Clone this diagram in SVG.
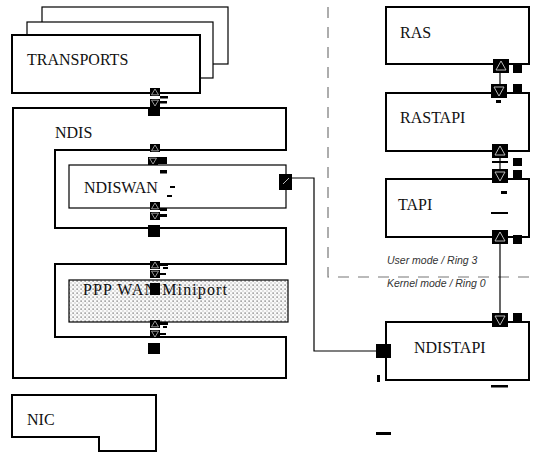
<svg xmlns="http://www.w3.org/2000/svg" xmlns:xlink="http://www.w3.org/1999/xlink" width="535" height="453" viewBox="0 0 535 453">
<style>
.box{fill:#fff;stroke:#000;stroke-width:2}
.thin{fill:#fff;stroke:#000;stroke-width:1.2}
.wire{fill:none;stroke:#000;stroke-width:1.2}
.dash{fill:none;stroke:#777;stroke-width:1.2;stroke-dasharray:11 9}
.blk{fill:#000}
</style>
<defs>
<pattern id="dots" width="4" height="4" patternUnits="userSpaceOnUse">
<rect width="4" height="4" fill="#fafafa"/>
<rect x="0.5" y="0.5" width="1.2" height="1.2" fill="#555"/>
<rect x="2.5" y="2.5" width="1" height="1" fill="#999"/>
</pattern>
<g id="gu"><rect width="10" height="8" fill="#000"/><path d="M5 1 L8.5 6.8 L1.5 6.8 Z" fill="none" stroke="#bbb" stroke-width="0.8"/></g>
<g id="gd"><rect width="10" height="8" fill="#000"/><path d="M1.5 1.2 L8.5 1.2 L5 7 Z" fill="none" stroke="#bbb" stroke-width="0.8"/></g>
<g id="GU"><rect width="16" height="14" fill="#000"/><path d="M8 2 L13 11 L3 11 Z" fill="none" stroke="#ccc" stroke-width="0.9"/></g>
<g id="GD"><rect width="16" height="14" fill="#000"/><path d="M3 3 L13 3 L8 12 Z" fill="none" stroke="#ccc" stroke-width="0.9"/></g>
</defs>
<rect width="535" height="453" fill="#fff"/>

<g id="boundary" font-family="Liberation Sans, Arial, sans-serif" font-size="10.5" font-style="italic" fill="#333">
<path class="dash" d="M328 7 V277 H529"/>
<text x="387" y="264">User mode / Ring 3</text>
<text x="387" y="287">Kernel mode / Ring 0</text>
</g>

<g font-family="Liberation Serif, Times New Roman, DejaVu Serif, serif" font-size="16" fill="#111">
<g id="transports">
<rect class="thin" x="42" y="7" width="186" height="57" stroke-width="1.5"/>
<rect class="thin" x="27" y="22" width="186" height="56" stroke-width="1.5"/>
<rect class="box" x="12" y="35" width="188" height="58"/>
<text x="27" y="65">TRANSPORTS</text>
</g>

<g id="ndis">
<path class="box" d="M13 108 H286 V150 H55 V228 H286 V264 H55 V337 H286 V378 H13 Z"/>
<text x="55" y="138">NDIS</text>
</g>

<g id="ndiswan">
<rect class="thin" x="69" y="165" width="217" height="43"/>
<text x="84" y="193">NDISWAN</text>
</g>

<g id="pppwan">
<rect x="69" y="280" width="219" height="42" fill="url(#dots)" stroke="#000" stroke-width="1.2"/>
<text x="83" y="295" textLength="144" lengthAdjust="spacing">PPP WAN Miniport</text>
</g>

<g id="nic">
<path class="box" d="M12 395 H156 V451 H99 V437 H12 Z"/>
<text x="27" y="425">NIC</text>
</g>

<g id="ras">
<rect class="box" x="386" y="7" width="143" height="57"/>
<text x="400" y="38">RAS</text>
</g>

<g id="rastapi">
<rect class="box" x="386" y="93" width="143" height="58"/>
<text x="400" y="123">RASTAPI</text>
</g>

<g id="tapi">
<rect class="box" x="386" y="179" width="143" height="58"/>
<text x="398" y="210">TAPI</text>
</g>

<g id="nditapi">
<rect class="box" x="386" y="322" width="143" height="58"/>
<text x="414" y="353">NDISTAPI</text>
</g>
</g>

<g id="connectors">
<use xlink:href="#gu" x="150" y="88"/>
<use xlink:href="#gd" x="150" y="99"/>
<rect class="blk" x="160" y="96" width="8" height="2.5"/>
<rect class="blk" x="160" y="101" width="7" height="2.5"/>
<rect class="blk" x="148" y="107" width="12" height="9"/>

<use xlink:href="#gu" x="150" y="144"/>
<use xlink:href="#gd" x="148" y="157"/>
<rect class="blk" x="157" y="157" width="10" height="7"/>
<rect class="blk" x="160" y="170" width="7" height="3.5"/>
<rect class="blk" x="170" y="186" width="5" height="2"/>
<rect class="blk" x="167" y="195" width="5" height="2"/>

<use xlink:href="#gu" x="150" y="202"/>
<rect class="blk" x="160" y="208" width="7" height="3"/>
<use xlink:href="#gd" x="150" y="212"/>
<rect class="blk" x="159" y="214" width="8" height="3"/>
<rect class="blk" x="148" y="225" width="12" height="12"/>

<use xlink:href="#gu" x="150" y="261"/>
<rect class="blk" x="160" y="263" width="8" height="3"/>
<rect class="blk" x="163" y="267" width="5" height="2"/>
<use xlink:href="#gd" x="150" y="270"/>
<rect class="blk" x="160" y="273" width="6" height="2"/>
<rect class="blk" x="150" y="283" width="10" height="12"/>

<use xlink:href="#gu" x="150" y="320"/>
<rect class="blk" x="160" y="322" width="8" height="3"/>
<rect class="blk" x="163" y="326" width="4" height="2"/>
<use xlink:href="#gd" x="150" y="330"/>
<rect class="blk" x="160" y="333" width="6" height="2"/>
<rect class="blk" x="148" y="343" width="12" height="11"/>

<rect class="blk" x="279" y="174" width="13" height="16"/>
<path d="M283 184 L289 178" stroke="#ccc" stroke-width="0.9" fill="none"/>
<path class="wire" d="M292 178 H314 V351 H376"/>
<rect class="blk" x="376" y="344" width="15" height="14"/>
<rect class="blk" x="377" y="375" width="3" height="7"/>
<rect class="blk" x="376" y="432" width="15" height="3"/>

<use xlink:href="#GU" x="493" y="59"/>
<rect class="blk" x="513" y="65" width="9" height="8"/>
<path class="wire" d="M500 72 V84"/>
<use xlink:href="#GD" x="491" y="84"/>
<rect class="blk" x="513" y="84" width="9" height="8"/>
<rect class="blk" x="496" y="100" width="5" height="3"/>

<use xlink:href="#GU" x="492" y="144"/>
<rect class="blk" x="492" y="161" width="16" height="2"/>
<rect class="blk" x="513" y="158" width="9" height="8"/>
<path class="wire" d="M500 158 V169"/>
<use xlink:href="#GD" x="492" y="169"/>
<rect class="blk" x="513" y="170" width="9" height="8"/>
<rect class="blk" x="501" y="191" width="6" height="3"/>
<rect class="blk" x="491" y="212" width="17" height="2"/>

<use xlink:href="#GU" x="492" y="230"/>
<rect class="blk" x="513" y="235" width="9" height="9"/>
<path class="wire" d="M500 244 V313"/>
<use xlink:href="#GD" x="492" y="313"/>
<rect class="blk" x="513" y="313" width="9" height="9"/>
<rect class="blk" x="491" y="385" width="17" height="2.5"/>
</g>
</svg>
